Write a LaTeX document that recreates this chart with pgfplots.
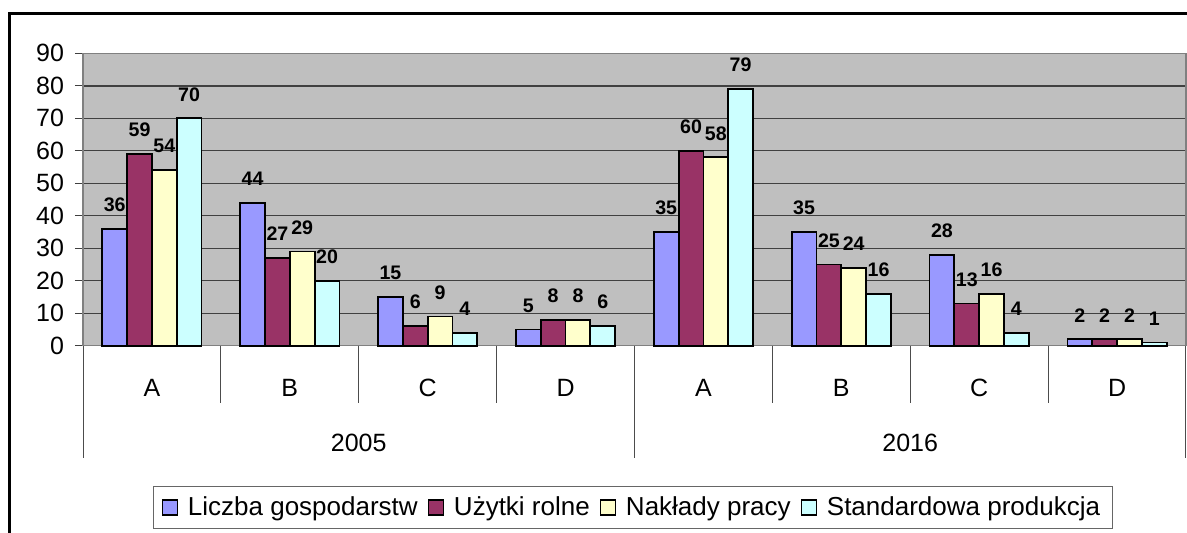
\documentclass[border=0pt]{standalone}
\usepackage{fontspec}
\setmainfont{Liberation Sans}
\usepackage{pgfplots}
\pgfplotsset{compat=1.18}
\definecolor{cA}{HTML}{9999FF}
\definecolor{cB}{HTML}{993366}
\definecolor{cC}{HTML}{FFFFCC}
\definecolor{cD}{HTML}{CCFFFF}
\begin{document}
\begin{tikzpicture}
\useasboundingbox (0,0) rectangle (593.5pt,-266pt);
\draw[line width=1.3pt] (4.75pt,-6.65pt) rectangle (620pt,-290pt);
\begin{axis}[
  at={(41.5pt,-172.85pt)}, anchor=south west,
  scale only axis, width=551.5pt, height=146.2pt,
  xmin=-0.5, xmax=7.5, ymin=0, ymax=90,
  clip=false,
  axis background/.style={fill=gray!50},
  axis line style={draw=gray, line width=0.6pt},
  ymajorgrids, grid style={black!75, line width=0.7pt},
  ytick={0,10,...,90},
  xtick={0,...,7},
  xticklabels={A,B,C,D,A,B,C,D},
  x tick style={draw=none},
  y tick style={draw=black!75, line width=0.6pt},
  tick align=outside, major tick length=4pt,
  ytick pos=left, xtick pos=bottom,
  /pgf/number format/assume math mode=true,
  ticklabel style={font=\fontsize{12.5}{15}\selectfont},
  yticklabel style={xshift=-2pt},
  xticklabel style={anchor=center, yshift=-17pt},
  ybar, bar width=12.4pt,
  nodes near coords,
  nodes near coords style={font=\fontsize{9.8}{11}\selectfont\bfseries, anchor=center, yshift=12pt, text=black},
  every axis plot/.append style={draw=black, line width=0.9pt},
  legend image code/.code={\draw[#1, line width=0.6pt] (0pt,-3.75pt) rectangle (7.5pt,3.75pt);},
  legend columns=4,
  legend style={at={(0.4986,-0.5534)}, anchor=center, draw=black!60, line width=0.5pt,
    font=\fontsize{13}{15}\selectfont, inner xsep=4pt, inner ysep=3pt,
    /tikz/every odd column/.append style={column sep=3pt},
    /tikz/every even column/.append style={column sep=3pt}},
]
\addplot[fill=cA, bar shift=-18.6pt] coordinates {(0,36) (1,44) (2,15) (3,5) (4,35) (5,35) (6,28) (7,2)};
\addplot[fill=cB, bar shift=-6.2pt] coordinates {(0,59) (1,27) (2,6) (3,8) (4,60) (5,25) (6,13) (7,2)};
\addplot[fill=cC, bar shift=6.2pt] coordinates {(0,54) (1,29) (2,9) (3,8) (4,58) (5,24) (6,16) (7,2)};
\addplot[fill=cD, bar shift=18.6pt] coordinates {(0,70) (1,20) (2,4) (3,6) (4,79) (5,16) (6,4) (7,1)};
\legend{Liczba gospodarstw, Użytki rolne, Nakłady pracy, Standardowa produkcja}
\pgfplotsinvokeforeach{0.5,1.5,2.5,4.5,5.5,6.5}{
  \draw[black!70, line width=0.5pt] (axis cs:#1,0) -- ++(0pt,-28.65pt);
}
\pgfplotsinvokeforeach{-0.5,3.5,7.5}{
  \draw[black!70, line width=0.5pt] (axis cs:#1,0) -- ++(0pt,-56.15pt);
}
\node[font=\fontsize{12.5}{15}\selectfont] at ([yshift=-48.65pt]axis cs:1.5,0) {2005};
\node[font=\fontsize{12.5}{15}\selectfont] at ([yshift=-48.65pt]axis cs:5.5,0) {2016};
\end{axis}
\end{tikzpicture}
\end{document}
